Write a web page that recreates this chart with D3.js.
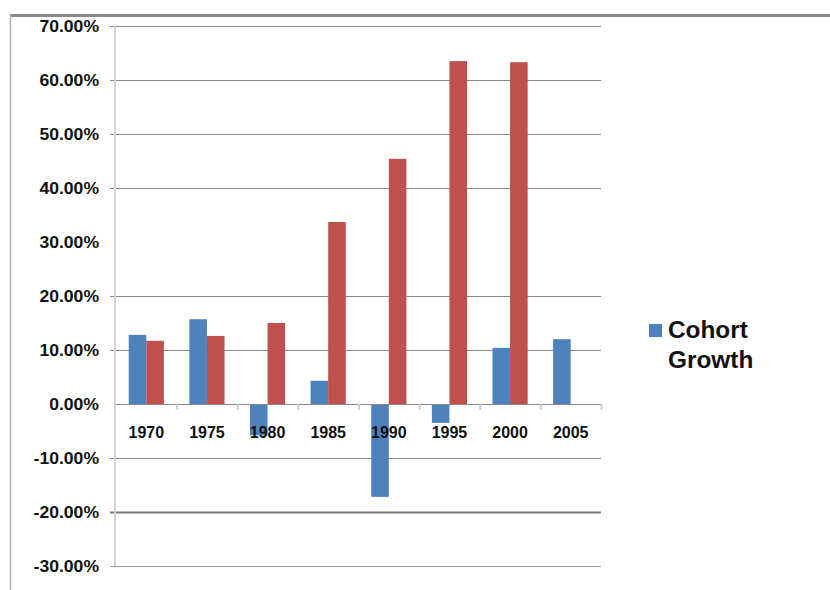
<!DOCTYPE html>
<html>
<head>
<meta charset="utf-8">
<script src="https://cdn.jsdelivr.net/npm/d3@7"></script>
<style>
  html, body { margin: 0; padding: 0; background: #fff; }
  svg { display: block; }
  text { font-family: "Liberation Sans", Arial, sans-serif; }
</style>
</head>
<body>
<svg id="chart" width="830" height="590"></svg>
<script>
// ---- data ----
const years = ["1970", "1975", "1980", "1985", "1990", "1995", "2000", "2005"];
const cohortGrowth = [12.8, 15.7, -5.8, 4.3, -17.2, -3.5, 10.4, 12.0];
const otherSeries = [11.7, 12.6, 15.0, 33.7, 45.4, 63.5, 63.3, null];
const yTickValues = [-30, -20, -10, 0, 10, 20, 30, 40, 50, 60, 70];
const gridValues = [-30, -20, -10, 10, 20, 40, 50, 60, 70];
const legendLines = ["Cohort", "Growth"];

const blue = "#4F81BD", red = "#C0504D";

const svg = d3.select("#chart");

// frame edges
svg.append("line").attr("x1", 10).attr("x2", 830).attr("y1", 15.5).attr("y2", 15.5)
  .attr("stroke", "#8a8a8a").attr("stroke-width", 3);
svg.append("line").attr("x1", 10.5).attr("x2", 10.5).attr("y1", 15).attr("y2", 590)
  .attr("stroke", "#b4b4b4").attr("stroke-width", 1.5);

const x0 = d3.scaleBand().domain(years).range([116, 601]).paddingInner(0.42).paddingOuter(0.21);
const x1 = d3.scaleBand().domain(["a", "b"]).range([0, x0.bandwidth()]);
const y = d3.scaleLinear().domain([-30, 70]).range([566, 26]);

// gridlines
const grid = svg.append("g").attr("transform", "translate(110,0)")
  .call(d3.axisLeft(y).tickValues(gridValues).tickSize(-491).tickFormat(""));
grid.select(".domain").remove();
grid.selectAll(".tick line")
  .attr("stroke", d => d === -20 ? "#7a7a7a" : (d === -30 ? "#a0a0a0" : "#868686"))
  .attr("stroke-width", d => d === -20 ? 2 : 1);

// vertical axis line
svg.append("line").attr("x1", 115).attr("x2", 115).attr("y1", y(70)).attr("y2", y(-30))
  .attr("stroke", "#d4d4d4").attr("stroke-width", 2);

// y labels
const yAxis = svg.append("g").attr("transform", "translate(110,0)")
  .call(d3.axisLeft(y).tickValues(yTickValues).tickSize(0).tickPadding(10)
    .tickFormat(d => d.toFixed(2) + "%"));
yAxis.select(".domain").remove();
yAxis.selectAll("text")
  .attr("font-size", 16).attr("font-weight", "bold").attr("fill", "#111")
  .attr("font-family", "'Liberation Sans', Arial, sans-serif")
  .attr("transform", "scale(1.1,1)");

// bars
const groups = svg.append("g").selectAll("g").data(years).join("g")
  .attr("transform", d => `translate(${x0(d)},0)`);
groups.append("rect")
  .attr("x", x1("a")).attr("width", x1.bandwidth())
  .attr("y", (d, i) => y(Math.max(0, cohortGrowth[i])))
  .attr("height", (d, i) => Math.abs(y(cohortGrowth[i]) - y(0)))
  .attr("fill", blue);
groups.filter((d, i) => otherSeries[i] != null).append("rect")
  .attr("x", x1("b")).attr("width", x1.bandwidth())
  .attr("y", d => y(Math.max(0, otherSeries[years.indexOf(d)])))
  .attr("height", d => Math.abs(y(otherSeries[years.indexOf(d)]) - y(0)))
  .attr("fill", red);

// x axis at zero
const xTickPos = d3.scaleLinear().domain([0, years.length]).range([116, 601]);
const boundaries = d3.range(1, years.length + 1);
const xAxisG = svg.append("g").attr("transform", `translate(0,${y(0)})`)
  .call(d3.axisBottom(xTickPos).tickValues(boundaries).tickSize(6).tickFormat(""));
xAxisG.select(".domain").attr("stroke", "#868686").attr("d", "M116,0.5H601");
xAxisG.selectAll(".tick line").attr("stroke", "#cfcfcf").attr("stroke-width", 2);

const xLabels = svg.append("g").attr("transform", `translate(0,${y(0)})`)
  .call(d3.axisBottom(x0).tickSize(0).tickPadding(23));
xLabels.select(".domain").remove();
xLabels.selectAll("text")
  .attr("font-size", 16).attr("font-weight", "bold").attr("fill", "#111")
  .attr("font-family", "'Liberation Sans', Arial, sans-serif");

// legend
const lg = svg.append("g").attr("transform", "translate(649,0)");
lg.append("rect").attr("x", 0).attr("y", 324).attr("width", 13).attr("height", 13).attr("fill", blue);
lg.selectAll("text.leg").data(legendLines).join("text").attr("class", "leg")
  .attr("x", 19).attr("y", (d, i) => 338 + i * 30)
  .attr("font-size", 23).attr("font-weight", "bold").attr("fill", "#111")
  .attr("transform", "translate(19,0) scale(1.06,1) translate(-19,0)")
  .text(d => d);
</script>
</body>
</html>
